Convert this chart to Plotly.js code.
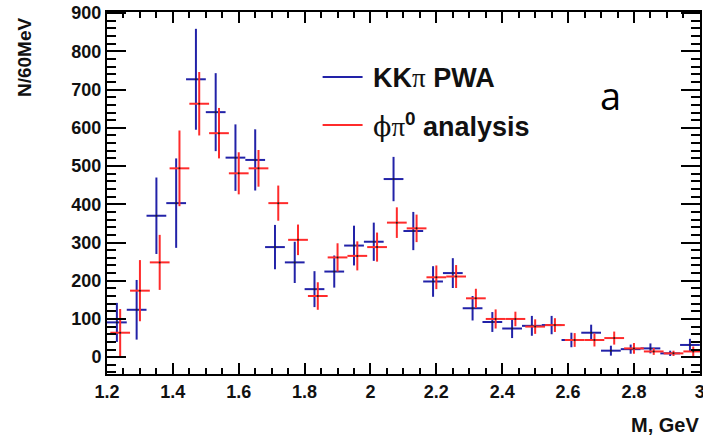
<!DOCTYPE html>
<html>
<head>
<meta charset="utf-8">
<script src="https://cdn.plot.ly/plotly-3.0.1.min.js"></script>
<style>html,body{margin:0;padding:0;background:#fff;}</style>
</head>
<body>
<div id="chart" style="width:703px;height:439px;"></div>
<script>
// KK-pi PWA (blue)
const massKKpi = [1.23, 1.29, 1.35, 1.41, 1.47, 1.53, 1.59, 1.65, 1.71, 1.77, 1.83, 1.89, 1.95, 2.01, 2.07, 2.13, 2.19, 2.25, 2.31, 2.37, 2.43, 2.49, 2.55, 2.61, 2.67, 2.73, 2.79, 2.85, 2.91, 2.97];
const countsKKpi = [91, 124, 370, 403, 727, 641, 522, 516, 288, 248, 178, 224, 292, 302, 466, 330, 198, 220, 128, 92, 75, 82, 84, 45, 64, 17, 21, 23, 10, 32];
const errKKpi = [51, 78, 100, 117, 132, 102, 87, 80, 58, 54, 47, 42, 52, 50, 58, 50, 40, 39, 32, 26, 25, 26, 24, 19, 21, 13, 12, 13, 7, 16];
// phi pi0 analysis (red)
const massPhiPi = [1.24, 1.30, 1.36, 1.42, 1.48, 1.54, 1.60, 1.66, 1.72, 1.78, 1.84, 1.90, 1.96, 2.02, 2.08, 2.14, 2.20, 2.26, 2.32, 2.38, 2.44, 2.50, 2.56, 2.62, 2.68, 2.74, 2.80, 2.86, 2.92, 2.98];
const countsPhiPi = [64, 174, 248, 494, 663, 586, 481, 494, 403, 307, 160, 261, 265, 288, 352, 337, 209, 211, 154, 100, 100, 80, 84, 45, 45, 50, 23, 15, 10, 15];
const errPhiPi = [62, 80, 72, 99, 83, 66, 55, 48, 46, 40, 36, 37, 38, 38, 40, 36, 31, 30, 25, 25, 19, 19, 18, 18, 17, 17, 14, 9, 7, 13];
const binHalfWidth = 0.03;

const xTickVals = [1.2, 1.4, 1.6, 1.8, 2, 2.2, 2.4, 2.6, 2.8, 3];
const yTickVals = [0, 100, 200, 300, 400, 500, 600, 700, 800, 900];

const BLUE = '#2222a8';
const RED = '#ff2b2b';

function trace(x, y, e, color) {
  return {
    type: 'scatter', mode: 'markers', x: x, y: y,
    marker: {color: '#202020', size: 2},
    error_y: {type: 'data', array: e, visible: true, color: color, thickness: 2, width: 0},
    error_x: {type: 'constant', value: binHalfWidth, visible: true, color: color, thickness: 2, width: 0},
    showlegend: false, hoverinfo: 'skip'
  };
}

const data = [
  trace(massKKpi, countsKKpi, errKKpi, BLUE),
  trace(massPhiPi, countsPhiPi, errPhiPi, RED)
];

const tickFont = {family: 'Liberation Sans, Arial, sans-serif', size: 18, color: '#111', weight: 'bold'};

const layout = {
  width: 703, height: 439,
  margin: {l: 107, r: 3, t: 12, b: 65},
  paper_bgcolor: '#fff', plot_bgcolor: '#fff',
  showlegend: false,
  xaxis: {
    range: [1.2, 3.0005], tickmode: 'array', tickvals: xTickVals,
    ticks: 'inside', ticklen: 11, tickwidth: 2, tickcolor: '#000',
    ticklabeloverflow: 'allow',
    minor: {dtick: 0.05, tick0: 1.2, ticks: 'inside', ticklen: 6, tickwidth: 2, tickcolor: '#000', showgrid: false},
    showline: true, linecolor: '#000', linewidth: 2, mirror: 'ticks',
    showgrid: false, zeroline: false, tickfont: tickFont
  },
  yaxis: {
    range: [-44, 903], tickmode: 'array', tickvals: yTickVals,
    ticks: 'inside', ticklen: 19, tickwidth: 2, tickcolor: '#000',
    minor: {dtick: 20, tick0: 0, ticks: 'inside', ticklen: 9, tickwidth: 2, tickcolor: '#000', showgrid: false},
    showline: true, linecolor: '#000', linewidth: 2, mirror: 'ticks',
    showgrid: false, zeroline: false, tickfont: tickFont
  },
  shapes: [
    {type: 'line', xref: 'paper', yref: 'paper', x0: 0.3636, x1: 0.431, y0: 0.8204, y1: 0.8204, line: {color: BLUE, width: 2}},
    {type: 'line', xref: 'paper', yref: 'paper', x0: 0.3636, x1: 0.431, y0: 0.6878, y1: 0.6878, line: {color: RED, width: 2}}
  ],
  annotations: [
    {xref: 'paper', yref: 'paper', x: -0.138, y: 0.876, text: 'N/60MeV', textangle: -90, showarrow: false,
     xanchor: 'center', yanchor: 'middle', font: {family: 'Liberation Sans, Arial, sans-serif', size: 19, color: '#111', weight: 'bold'}},
    {xref: 'paper', yref: 'paper', x: 1.0017, y: -0.141, text: 'M, GeV', showarrow: false,
     xanchor: 'right', yanchor: 'middle', font: {family: 'Liberation Sans, Arial, sans-serif', size: 20, color: '#111', weight: 'bold'}},
    {xref: 'paper', yref: 'paper', x: 0.8485, y: 0.772, text: 'a', showarrow: false,
     xanchor: 'center', yanchor: 'middle', font: {family: 'Open Sans, sans-serif', size: 38, color: '#000'}},
    {xref: 'paper', yref: 'paper', x: 0.446, y: 0.8177, text: 'KK<span style="font-family:Liberation Serif;font-weight:normal">π</span> PWA', showarrow: false,
     xanchor: 'left', yanchor: 'middle', font: {family: 'Liberation Sans, Arial, sans-serif', size: 27, color: '#111', weight: 'bold'}},
    {xref: 'paper', yref: 'paper', x: 0.446, y: 0.688, text: '<span style="font-family:DejaVu Serif;font-weight:normal">ϕ</span><span style="font-family:Liberation Serif;font-weight:normal">π</span><sup>0</sup> analysis', showarrow: false,
     xanchor: 'left', yanchor: 'middle', font: {family: 'Liberation Sans, Arial, sans-serif', size: 27, color: '#111', weight: 'bold'}}
  ]
};

Plotly.newPlot('chart', data, layout, {staticPlot: true, displayModeBar: false});
</script>
</body>
</html>
